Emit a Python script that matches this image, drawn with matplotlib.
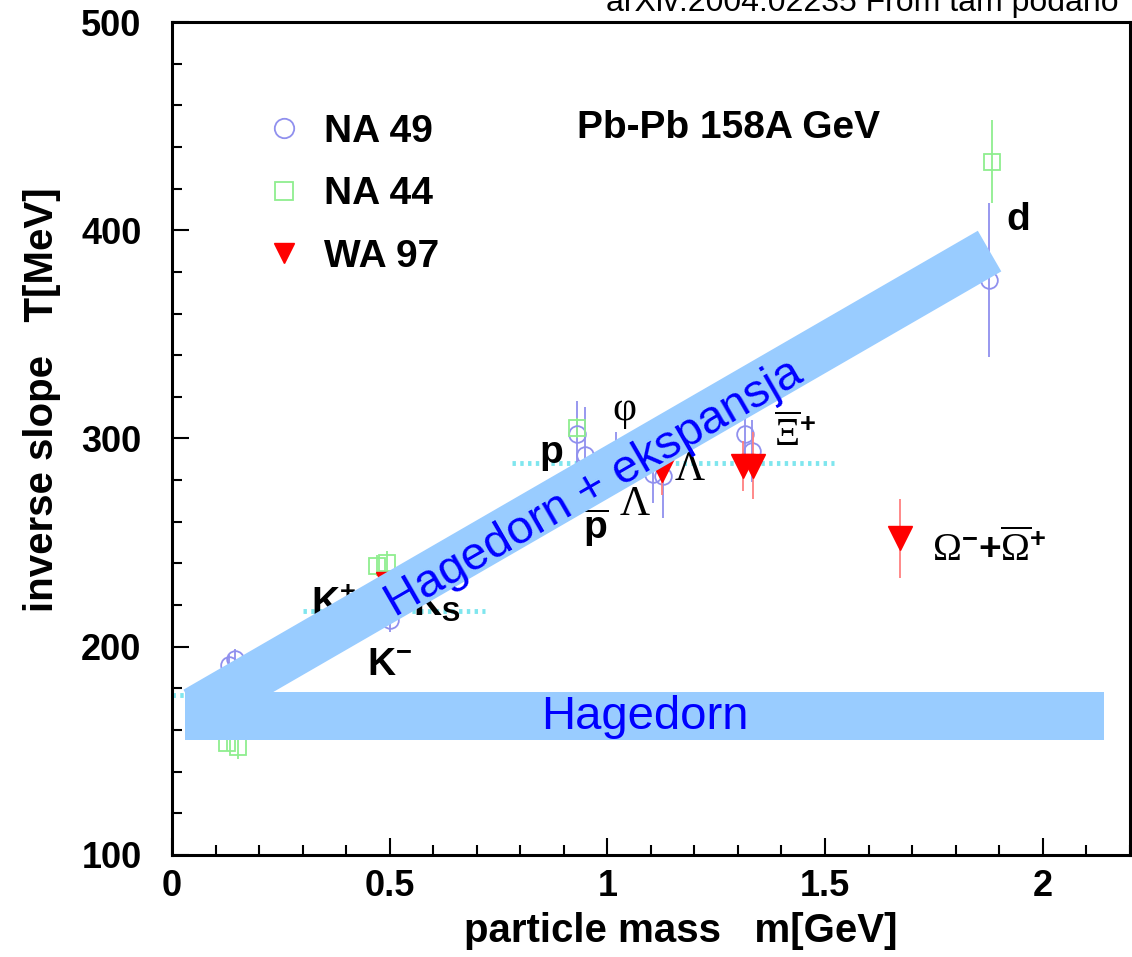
import matplotlib
matplotlib.use('Agg')
import matplotlib.pyplot as plt
from matplotlib.lines import Line2D
from matplotlib.patches import Rectangle
from matplotlib.ticker import MultipleLocator

plt.rcParams['font.family'] = ['Liberation Sans', 'DejaVu Sans']
plt.rcParams['mathtext.fontset'] = 'custom'
plt.rcParams['mathtext.rm'] = 'Liberation Serif'
plt.rcParams['mathtext.it'] = 'Liberation Serif:italic'
plt.rcParams['mathtext.bf'] = 'Liberation Sans:bold'

# NA 49 (open circles)
na49_mass = [0.130, 0.145, 0.500, 0.930, 0.948, 1.020, 1.105, 1.128, 1.316, 1.332, 1.876]
na49_T = [191, 194, 213, 302, 292, 290, 283, 282, 302, 294, 376]
na49_err = [5, 5, 6, 16, 23, 13, 14, 20, 10, 15, 37]

# NA 44 (open squares)
na44_mass = [0.126, 0.152, 0.470, 0.494, 0.930, 1.883]
na44_T = [154, 152, 239, 240, 305, 433]
na44_err = [4, 6, 5, 6, 5, 20]

# WA 97 (red triangles)
wa97_mass = [0.496, 1.125, 1.311, 1.334, 1.672]
wa97_T = [230, 285, 287, 287, 252]
wa97_err = [5, 12, 12, 16, 19]

# dotted cyan levels: T, mass range
ref_T = [177, 217, 288]
ref_from = [0.0, 0.30, 0.78]
ref_to = [0.30, 0.72, 1.52]

# particle names next to the points
names = [r'$\mathbf{d}$', r'$\mathbf{p}$', 'φ', r'$\overline{\Xi}^{\mathbf{+}}$', 'Λ',
         r'$\overline{\mathbf{p}}$', 'Λ', r'$\Omega^{\mathbf{-}}\mathbf{+}\overline{\Omega}^{\mathbf{+}}$',
         r'$\mathbf{K^{-}}$', r'$\mathbf{K_{S}}$', r'$\mathbf{K^{+}}$']
name_m = [1.943, 0.870, 1.040, 1.431, 1.189, 0.974, 1.063, 1.878, 0.500, 0.608, 0.370]
name_T = [405, 292, 314, 302, 285, 257, 268, 247, 191, 220, 220]

blue_c = '#9090ee'
green_c = '#8fee8f'
band_c = '#99ccff'

fig = plt.figure(figsize=(11.32, 9.57), dpi=100)
ax = fig.add_axes([0.152, 0.1066, 0.846, 0.8704])

ax.errorbar(na49_mass, na49_T, yerr=na49_err, fmt='o', ms=12, mfc='none', mec=blue_c,
            mew=1.3, ecolor=blue_c, elinewidth=1.3, capsize=0, zorder=3)
ax.errorbar(na44_mass, na44_T, yerr=na44_err, fmt='s', ms=12, mfc='none', mec=green_c,
            mew=1.3, ecolor=green_c, elinewidth=1.3, capsize=0, zorder=3)
ax.errorbar(wa97_mass, wa97_T, yerr=wa97_err, fmt='v', ms=17, mfc='red', mec='red',
            ecolor='#ff8080', elinewidth=1.3, capsize=0, zorder=4)

for t, a, b in zip(ref_T, ref_from, ref_to):
    ax.plot([a, b], [t, t], color='#7fe6ee', lw=3.5, ls=(0, (0.7, 0.9)), zorder=2)

for s, m, t in zip(names, name_m, name_T):
    if s in ('φ', 'Λ'):
        ax.text(m, t, s, fontsize=30, ha='center', va='center',
                family='Liberation Serif', zorder=4)
    else:
        ax.text(m, t, s, fontsize=28, fontweight='bold', ha='center', va='center', zorder=4)

# Hagedorn bands
ax.add_patch(Rectangle((0.03, 155.2), 2.112, 23.1, color=band_c, lw=0, zorder=5))
ax.plot([0.053, 1.878], [169.6, 390.0], color=band_c, lw=33.8, solid_capstyle='butt', zorder=5)
ax.text(1.086, 166.5, 'Hagedorn', color='#0000ff', fontsize=34, ha='center', va='center', zorder=6)
ax.text(0.969, 276, 'Hagedorn + ekspansja', color='#0000ff', fontsize=34, ha='center',
        va='center', rotation=30, rotation_mode='anchor', zorder=6)

ax.text(0.93, 449, 'Pb-Pb 158A GeV', fontsize=28, fontweight='bold', ha='left', va='center')

handles = [Line2D([], [], ls='none', marker='o', ms=14, mfc='none', mec=blue_c, mew=1.3),
           Line2D([], [], ls='none', marker='s', ms=13, mfc='none', mec=green_c, mew=1.3),
           Line2D([], [], ls='none', marker='v', ms=14, mfc='red', mec='red')]
ax.legend(handles, ['NA 49', 'NA 44', 'WA 97'], loc='upper left', bbox_to_anchor=(0.076, 0.913),
          frameon=False, borderpad=0, handlelength=1.0, handletextpad=0.53, labelspacing=0.68,
          prop={'size': 28, 'weight': 'bold'})

ax.set_xlim(0, 2.2)
ax.set_ylim(100, 500)
ax.xaxis.set_major_locator(MultipleLocator(0.5))
ax.xaxis.set_minor_locator(MultipleLocator(0.1))
ax.yaxis.set_major_locator(MultipleLocator(100))
ax.yaxis.set_minor_locator(MultipleLocator(20))
ax.set_xticks([0, 0.5, 1, 1.5, 2])
ax.set_xticklabels(['0', '0.5', '1', '1.5', '2'])
ax.tick_params(which='both', direction='in', top=False, right=False, width=1.5,
               labelsize=26)
ax.tick_params(which='major', length=12)
ax.tick_params(which='minor', length=7)
ax.tick_params(axis='y', pad=22)
ax.tick_params(axis='x', pad=10)
for lab in ax.get_xticklabels() + ax.get_yticklabels():
    lab.set_fontweight('bold')
for sp in ax.spines.values():
    sp.set_linewidth(2.2)

ax.set_xlabel('particle mass   m[GeV]', fontsize=29, fontweight='bold')
ax.set_ylabel('inverse slope   T[MeV]', fontsize=29, fontweight='bold')
ax.xaxis.set_label_coords(0.531, -0.068)
ax.yaxis.set_label_coords(-0.116, 0.546)

fig.text(0.988, 0.9885, 'arXiv:2004.02235 From tam podano', fontsize=23, ha='right', va='baseline')

fig.savefig('out.png', dpi=100)
